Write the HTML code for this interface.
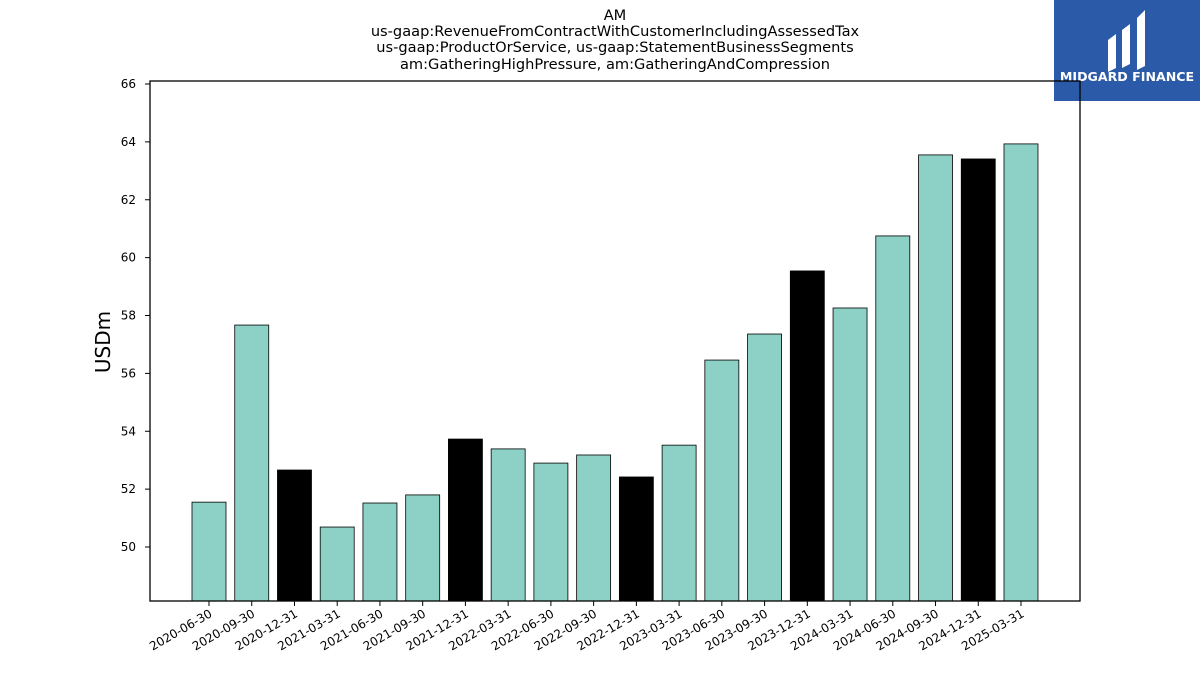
<!DOCTYPE html>
<html><head><meta charset="utf-8"><style>
body{margin:0;background:#fff;font-family:"DejaVu Sans","Liberation Sans",sans-serif}
</style></head><body>
<svg width="1200" height="675" xmlns="http://www.w3.org/2000/svg" id="c">
<g font-size="14.6" text-anchor="middle" fill="#000">
<text x="615" y="20">AM</text>
<text x="615" y="36">us-gaap:RevenueFromContractWithCustomerIncludingAssessedTax</text>
<text x="615" y="52">us-gaap:ProductOrService, us-gaap:StatementBusinessSegments</text>
<text x="615" y="69">am:GatheringHighPressure, am:GatheringAndCompression</text>
</g>
<g>
<rect x="1054" y="0" width="146" height="101" fill="#2b5aa8"/>
<path d="M1108 40 l8 -6 v34 l-8 4 z M1122 30 l8 -6 v40 l-8 4 z M1137 18 l8 -8 v56 l-8 4 z" fill="#fff"/>
<text x="1127" y="81" font-size="12.6" font-weight="bold" fill="#fff" text-anchor="middle">MIDGARD FINANCE</text>
</g>
<text transform="translate(110,342) rotate(-90)" font-size="20" text-anchor="middle">USDm</text>
<g id="plot"></g>
<rect x="150" y="81" width="930" height="520" fill="none" stroke="#000" stroke-width="1.3"/>
</svg>
<script>
const categories=["2020-06-30","2020-09-30","2020-12-31","2021-03-31","2021-06-30","2021-09-30","2021-12-31","2022-03-31","2022-06-30","2022-09-30","2022-12-31","2023-03-31","2023-06-30","2023-09-30","2023-12-31","2024-03-31","2024-06-30","2024-09-30","2024-12-31","2025-03-31"];
const values=[51.55,57.67,52.66,50.69,51.52,51.80,53.73,53.39,52.90,53.18,52.42,53.52,56.46,57.36,59.54,58.26,60.75,63.55,63.41,63.93];
const yTicks=[50,52,54,56,58,60,62,64,66];
const NS="http://www.w3.org/2000/svg";
const g=document.getElementById('plot');
const yMin=48.134,yMax=66.104,plotTop=81,plotBot=601;
const y=v=>plotBot-(v-yMin)/(yMax-yMin)*(plotBot-plotTop);
const x=i=>209+i*(1021-209)/(categories.length-1);
function mk(t,a){const e=document.createElementNS(NS,t);for(const k in a)e.setAttribute(k,a[k]);g.appendChild(e);return e;}
yTicks.forEach(t=>{
 const l=mk('line',{x1:145,x2:150,y1:y(t),y2:y(t),stroke:'#000'});
 
 
 const tx=mk('text',{x:136,y:y(t)+4,'font-size':12,'text-anchor':'end'});tx.textContent=t;
 
 
});
categories.forEach((c,i)=>{
 const black=c.endsWith('12-31');
 const r=mk('rect',{x:x(i)-17,y:y(values[i]),width:34,height:plotBot-y(values[i]),fill:black?'#000':'#8dd1c6',stroke:'#000','stroke-width':0.8});
 
 
 const l=mk('line',{x1:x(i),x2:x(i),y1:601,y2:606,stroke:'#000'});
 
 
 const tx=mk('text',{transform:`translate(${x(i)+4},${616}) rotate(-30)`,'font-size':12,'text-anchor':'end'});tx.textContent=c;
 
 
});
</script>
</body></html>
